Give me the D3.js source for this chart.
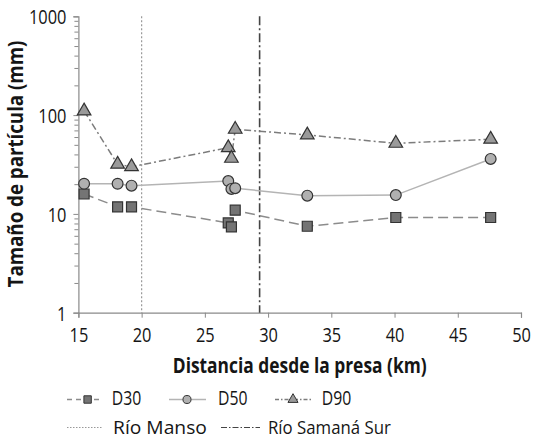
<!DOCTYPE html>
<html>
<head>
<meta charset="utf-8">
<script src="https://cdn.jsdelivr.net/npm/d3@7"></script>
<style>
  body { margin: 0; background: #fff; }
  svg { display: block; }
  text { font-family: "Open Sans", sans-serif; fill: #151515; }
</style>
</head>
<body>
<svg id="chart" width="539" height="438"></svg>
<script>
// distance of each sampling site (km)
var distance = [15.45, 18.1, 19.2, 26.85, 27.1, 27.4, 33.1, 40.1, 47.6];
// particle sizes (mm) per site
var d30 = [15.9, 11.8, 11.8, 8.1, 7.4, 10.9, 7.5, 9.2, 9.2];
var d50 = [20.2, 20.2, 19.3, 21.5, 17.9, 18.2, 15.3, 15.5, 36];
var d90 = [110, 31.8, 30, 46.8, 36.5, 71.8, 63, 51.8, 57];

var rivers = [
    {name: "Río Manso", km: 20},
    {name: "Río Samaná Sur", km: 29.33}
];

var xTicks = [15, 20, 25, 30, 35, 40, 45, 50];
var yTicks = [1, 10, 100, 1000];

var svg = d3.select("#chart");
var plotL = 78.4, plotR = 521, plotT = 16.3, plotB = 312.7;

var x = d3.scaleLinear().domain([15, 50]).range([plotL, plotR]);
var y = d3.scaleLog().domain([1, 1000]).range([plotB, plotT]);

var axisColor = "#8a8a8a";
var tickSquash = 0.8;

// place a text and squeeze it horizontally to a given width (the
// reference uses a condensed face that is not installed here)
function label(px, py, str, size, width, opts){
    opts = opts || {};
    var t = svg.append("text")
        .attr("font-size", size)
        .attr("font-weight", opts.bold ? "bold" : null)
        .attr("text-anchor", opts.anchor || "start")
        .text(str);
    var sx = width / t.node().getComputedTextLength();
    t.attr("transform", "translate(" + px + "," + py + ")" + (opts.rotate ? " rotate(" + opts.rotate + ")" : "") + " scale(" + sx + ",1)");
    return t;
}

// minor log ticks
var minor = [];
for (var p = 1; p <= 100; p *= 10)
    for (var m = 2; m <= 9; m++) minor.push(p * m);

var yMinor = svg.append("g")
    .attr("transform", "translate(" + plotL + ",0)")
    .call(d3.axisLeft(y).tickValues(minor).tickSize(4).tickFormat(""));
yMinor.select(".domain").remove();
yMinor.selectAll("line").attr("stroke", axisColor);

var yAxis = svg.append("g")
    .attr("transform", "translate(" + plotL + ",0)")
    .call(d3.axisLeft(y).tickValues(yTicks).tickSize(5).tickPadding(7).tickFormat(d3.format("d")));

var xAxis = svg.append("g")
    .attr("transform", "translate(0," + plotB + ")")
    .call(d3.axisBottom(x).tickValues(xTicks).tickSize(5).tickPadding(10));

[xAxis, yAxis].forEach(function(g){
    g.select(".domain").attr("stroke", axisColor).attr("stroke-width", 1.2);
    g.selectAll("line").attr("stroke", axisColor);
    g.selectAll("text")
        .attr("font-size", 20.5)
        .attr("font-family", null)
        .attr("fill", "#151515")
        .attr("x", function(){ var v = d3.select(this).attr("x"); return v ? v / tickSquash : null; })
        .attr("transform", "scale(" + tickSquash + ",1)");
});
yAxis.selectAll("text").attr("dy", "0.36em");

// axis titles
label((plotL + plotR) / 2, 373.3, "Distancia desde la presa (km)", 21, 254, {bold: true, anchor: "middle"});
label(22.7, 164, "Tamaño de partícula (mm)", 21, 247, {bold: true, anchor: "middle", rotate: -90});

// river lines
svg.append("line")
    .attr("x1", x(rivers[0].km)).attr("x2", x(rivers[0].km))
    .attr("y1", plotT).attr("y2", plotB)
    .attr("stroke", "#999").attr("stroke-width", 1.2)
    .attr("stroke-dasharray", "2,2");

svg.append("line")
    .attr("x1", x(rivers[1].km)).attr("x2", x(rivers[1].km))
    .attr("y1", plotT).attr("y2", plotB)
    .attr("stroke", "#444").attr("stroke-width", 1.6)
    .attr("stroke-dasharray", "9,3,2,3");

var series = [
    {name: "D30", values: d30, symbol: d3.symbolSquare, size: 100, fill: "#747474", line: "#8c8c8c", dash: "10,5",
        legend: {x1: 67, x2: 103, mx: 87.6, tx: 111.7, w: 29.5, dash: "5,4"}},
    {name: "D50", values: d50, symbol: d3.symbolCircle, size: 92, fill: "#b0b0b0", line: "#b4b4b4", dash: null,
        legend: {x1: 169, x2: 206, mx: 187, tx: 218, w: 29.5, dash: null}},
    {name: "D90", values: d90, symbol: d3.symbolTriangle, size: 80, fill: "#9a9a9a", line: "#7c7c7c", dash: "7,3,2,3",
        legend: {x1: 275, x2: 313, mx: 293, tx: 321.7, w: 29.5, dash: "4,2,1.5,2"}}
];

var line = d3.line()
    .x(function(d){ return x(d[0]); })
    .y(function(d){ return y(d[1]); });

series.forEach(function(s){
    var pts = distance.map(function(k, i){ return [k, s.values[i]]; });
    s.pts = pts;
    svg.append("path")
        .datum(pts)
        .attr("d", line)
        .attr("fill", "none")
        .attr("stroke", s.line)
        .attr("stroke-width", 1.5)
        .attr("stroke-dasharray", s.dash);
});

series.forEach(function(s){
    svg.selectAll(".m-" + s.name)
        .data(s.pts)
        .enter()
        .append("path")
        .attr("class", "m-" + s.name)
        .attr("transform", function(d){ return "translate(" + x(d[0]) + "," + y(d[1]) + ")"; })
        .attr("d", d3.symbol().type(s.symbol).size(s.size))
        .attr("fill", s.fill)
        .attr("stroke", "#333")
        .attr("stroke-width", 1.2);
});

// legend, row 1: series
series.forEach(function(s){
    var l = s.legend, cy = 399.5;
    svg.append("line")
        .attr("x1", l.x1).attr("x2", l.x2).attr("y1", cy).attr("y2", cy)
        .attr("stroke", s.line).attr("stroke-width", 1.3)
        .attr("stroke-dasharray", l.dash);
    svg.append("path")
        .attr("transform", "translate(" + l.mx + "," + cy + ")")
        .attr("d", d3.symbol().type(s.symbol).size(s.size * 0.55))
        .attr("fill", s.fill).attr("stroke", "#333").attr("stroke-width", 1);
    label(l.tx, 405, s.name, 19.5, l.w);
});

// legend, row 2: rivers
var riverLegend = [
    {x1: 67, x2: 103, tx: 113, w: 94, stroke: "#999", dash: "1.5,1.5", sw: 1},
    {x1: 221, x2: 260, tx: 268, w: 123, stroke: "#444", dash: "6,2,1.5,2", sw: 1.2}
];
riverLegend.forEach(function(l, i){
    var cy = 427.5;
    svg.append("line")
        .attr("x1", l.x1).attr("x2", l.x2).attr("y1", cy).attr("y2", cy)
        .attr("stroke", l.stroke).attr("stroke-width", l.sw)
        .attr("stroke-dasharray", l.dash);
    label(l.tx, 433.5, rivers[i].name, 19, l.w);
});
</script>
</body>
</html>
